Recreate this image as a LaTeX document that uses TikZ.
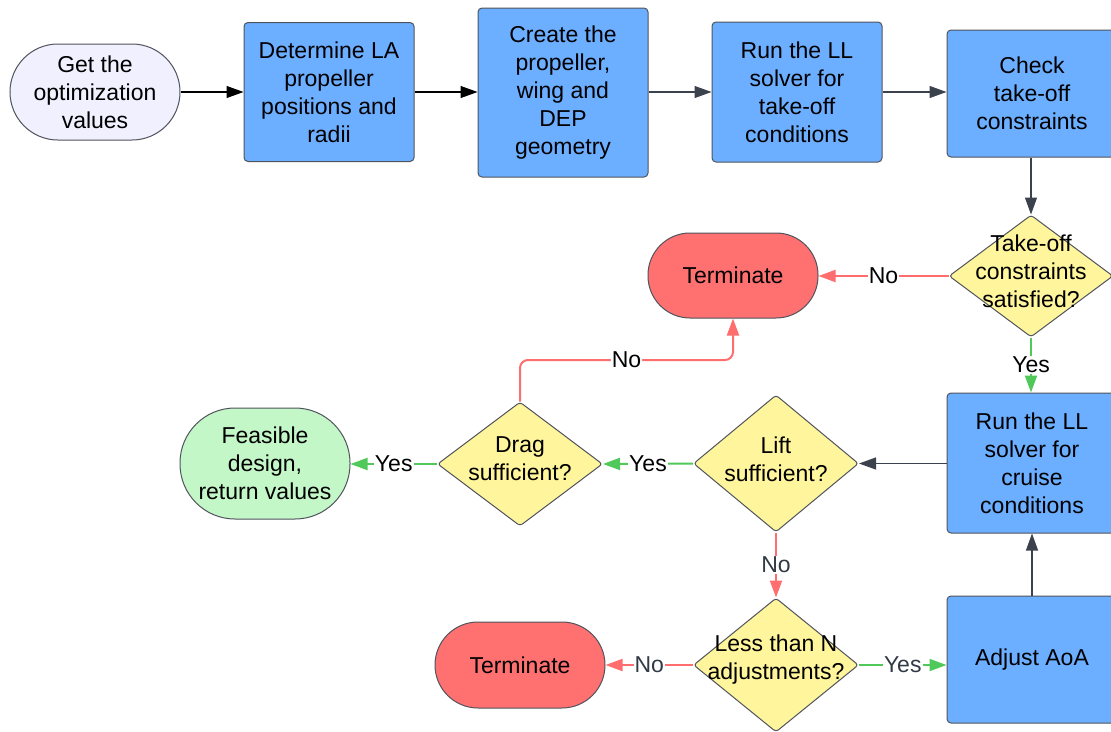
\documentclass[tikz,border=0pt]{standalone}
\usepackage{fontspec}
\setmainfont{Liberation Sans}
\usetikzlibrary{shapes.geometric,arrows.meta}
\definecolor{boxblue}{RGB}{108,174,255}
\definecolor{dyellow}{RGB}{255,245,157}
\definecolor{tred}{RGB}{255,112,112}
\definecolor{fgreen}{RGB}{195,247,200}
\definecolor{lav}{RGB}{240,240,255}
\definecolor{edgec}{RGB}{80,84,92}
\definecolor{conn}{RGB}{60,66,77}
\definecolor{rline}{RGB}{255,110,110}
\definecolor{gline}{RGB}{80,200,90}
\definecolor{lblgray}{RGB}{50,58,70}
\begin{document}
\begin{tikzpicture}[x=1pt,y=-1pt,
  every node/.style={font=\fontsize{23}{28}\selectfont, align=center},
  procbox/.style={draw=edgec, line width=1pt, fill=boxblue, rounded corners=4pt, inner sep=0pt, minimum width=170pt},
  stadium/.style={draw=edgec, line width=1pt, inner sep=0pt, minimum width=170pt},
  decis/.style={diamond, draw=edgec, line width=1pt, fill=dyellow, rounded corners=3pt, inner sep=0pt, aspect=1},
  lbl/.style={fill=white, inner sep=1pt},
  blackarr/.style={draw=black, line width=1.1pt, -{Triangle[length=17pt,width=12pt]}},
  grayarr/.style={draw=conn, line width=1.1pt, -{Triangle[length=17pt,width=12pt]}},
  redarr/.style={draw=rline, line width=2pt, -{Triangle[length=17pt,width=12pt]}},
  greenarr/.style={draw=gline, line width=2pt, -{Triangle[length=17pt,width=12pt]}}
]
\useasboundingbox (0,0) rectangle (1111,731);
\clip (0,0) rectangle (1111,731);
\fill[white] (0,0) rectangle (1111,731);

% top row
\node[stadium, fill=lav, minimum height=96pt, rounded corners=48pt] (get) at (95,92) {Get the\\optimization\\values};
\node[procbox, minimum height=139pt] (det) at (329,92) {Determine LA\\propeller\\positions and\\radii};
\node[procbox, minimum height=169pt] (cre) at (563,92.5) {Create the\\propeller,\\wing and\\DEP\\geometry};
\node[procbox, minimum height=140pt] (run1) at (797,92) {Run the LL\\solver for\\take-off\\conditions};
\node[procbox, minimum height=127pt] (chk) at (1032,93.5) {Check\\take-off\\constraints};

% take-off decision
\node[decis, minimum width=164pt, minimum height=122pt] (dto) at (1031,276) {};
\node (dtot) at (1031,271) {Take-off\\constraints\\satisfied?};
\node[stadium, fill=tred, minimum height=85pt, rounded corners=42pt] (ter1) at (733,275.5) {Terminate};

% middle row
\node[procbox, minimum height=140pt] (cru) at (1032,463) {Run the LL\\solver for\\cruise\\conditions};
\node[decis, minimum width=165pt, minimum height=137pt] (lift) at (776,463.5) {};
\node (liftt) at (776,459) {Lift\\sufficient?};
\node[decis, minimum width=165pt, minimum height=124pt] (drag) at (520,464) {};
\node (dragt) at (520,459) {Drag\\sufficient?};
\node[stadium, fill=fgreen, minimum height=111pt, rounded corners=55pt] (feas) at (265,463.5) {Feasible\\design,\\return values};

% bottom row
\node[decis, minimum width=165pt, minimum height=134pt] (less) at (776,665) {};
\node (lesst) at (776,660) {Less than N\\adjustments?};
\node[procbox, minimum height=127pt] (adj) at (1032,659.5) {Adjust AoA};
\node[stadium, fill=tred, minimum height=86pt, rounded corners=43pt] (ter2) at (520,665) {Terminate};

% connectors
\draw[blackarr] (get.east) -- (det.west);
\draw[blackarr] (det.east) -- (cre.west |- det.east);
\draw[grayarr] (cre.east |- run1.west) -- (run1.west);
\draw[grayarr] (run1.east) -- (chk.west |- run1.east);
\draw[grayarr] (chk.south -| dto.north) -- (dto.north);
\draw[redarr] (dto.west) -- node[lbl]{No} (ter1.east |- dto.west);
\draw[greenarr] (dto.south) -- node[lbl]{Yes} (cru.north -| dto.south);
\draw[grayarr] (cru.west |- lift.east) -- (lift.east);
\draw[greenarr] (lift.west) -- node[lbl]{Yes} (drag.east);
\draw[greenarr] (drag.west) -- node[lbl]{Yes} (feas.east |- drag.west);
\coordinate (k) at (733,360);
\draw[redarr, rounded corners=8pt] (drag.north) |- node[lbl, pos=0.75]{No} (k) -- (ter1.south);
\draw[redarr] (lift.south) -- node[lbl, text=lblgray]{No} (less.north);
\draw[redarr] (less.west) -- node[lbl, text=lblgray]{No} (ter2.east |- less.west);
\draw[greenarr] (less.east) -- node[lbl, text=lblgray]{Yes} (adj.west |- less.east);
\draw[grayarr] (adj.north -| cru.south) -- (cru.south);
\end{tikzpicture}
\end{document}
